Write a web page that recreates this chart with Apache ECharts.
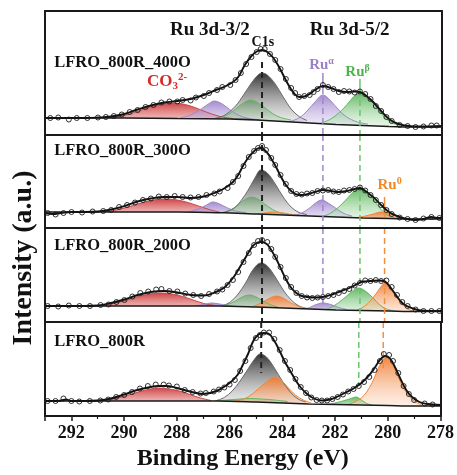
<!DOCTYPE html>
<html><head><meta charset="utf-8">
<script src="https://cdn.jsdelivr.net/npm/echarts@6/dist/echarts.min.js"></script>
<style>html,body{margin:0;padding:0;background:#fff}#c{width:457px;height:475px}</style>
</head><body><div id="c"></div><script>
const SERIF = '"Liberation Serif","Times New Roman",serif';
const xMin = 278, xMax = 293, xStep = 2;
const xAxisName = 'Binding Energy (eV)';
const yAxisName = 'Intensity (a.u.)';
const panelNames = ['LFRO_800R_400O', 'LFRO_800R_300O', 'LFRO_800R_200O', 'LFRO_800R'];

const p1Fit = [[293,17],[292.5,17],[292,17],[291.5,17],[291,17.5],[290.5,18.5],[290,21],[289.5,25.5],[289,29.5],[288.5,32.5],[288,34],[287.5,36],[287,40],[286.5,45.5],[286.2,48.5],[285.9,53],[285.7,58],[285.45,70],[285.2,79],[285,83.5],[284.8,85],[284.6,83],[284.4,78],[284.2,70],[284,60],[283.8,50],[283.6,42],[283.4,38],[283.2,38.5],[283,41],[282.8,45],[282.5,49],[282.2,47],[281.9,44],[281.6,43],[281.3,43.5],[281.1,43],[280.9,40],[280.6,33],[280.3,24],[280,16],[279.7,11.5],[279.4,9.5],[279,8.5],[278.5,8.5],[278,9]];
const p1Data = [[292.8,17],[292.5,17.5],[292.1,15.5],[291.8,17],[291.4,17],[291,17.5],[290.7,18],[290.4,19],[290.1,20.5],[289.8,23],[289.5,25],[289.2,28],[288.9,30],[288.6,32.5],[288.3,33.5],[288,33.5],[287.8,35],[287.5,34.5],[287.3,37.5],[287,39],[286.8,42],[286.5,45],[286.3,48],[286,50],[285.8,55],[285.6,62],[285.4,71],[285.2,78],[285,83],[284.85,86],[284.7,86],[284.5,81],[284.3,75],[284.1,66],[283.9,56],[283.7,47],[283.55,42],[283.4,38],[283.2,39],[283,40],[282.85,43],[282.7,46],[282.5,50],[282.3,48],[282.1,46],[281.9,43],[281.7,44],[281.5,43.5],[281.3,42.5],[281.1,43.5],[280.9,41],[280.7,36],[280.5,29],[280.3,24],[280.1,18],[279.9,14],[279.6,10],[279.3,9],[279,8],[278.7,8.5],[278.4,9.5],[278.2,9.5]];
const p1Bg = [[293,17],[290,17],[288,16.5],[286,16],[285,15],[284,13.5],[283,12],[282,10.5],[281,9.5],[280,8.5],[279,8],[278,8]];
const p1Red = [[290.8,17],[290.3,18],[289.8,21],[289.3,25.5],[288.8,29.5],[288.3,32],[287.9,31.5],[287.5,29],[287.1,25],[286.7,21],[286.3,18],[285.9,16.5]];
const p1PurpleA = [[287.9,17],[287.5,20],[287.1,26],[286.8,31.5],[286.6,34],[286.3,31],[286,25],[285.7,20],[285.3,16.5],[284.9,15.5]];
const p1GreenA = [[286.5,16.5],[286.1,20],[285.8,26],[285.5,32],[285.25,35],[285,33],[284.7,27.5],[284.4,21.5],[284.1,17.5],[283.7,15]];
const p1Gray = [[286.6,16.5],[286.2,20],[285.8,29],[285.5,40],[285.2,52],[284.95,60],[284.8,62],[284.6,60],[284.3,51],[284,38],[283.7,26],[283.4,18.5],[283.1,14.5]];
const p1PurpleB = [[283.8,13],[283.4,17],[283.1,24],[282.8,33],[282.5,40],[282.2,34],[281.9,25],[281.6,18],[281.2,13],[280.8,11]];
const p1GreenB = [[282.6,11.5],[282.2,16],[281.9,22],[281.6,30],[281.35,38],[281.1,42],[280.85,39],[280.6,32],[280.3,22],[280,14],[279.6,9.5]];

const p2Fit = [[293,15],[292.7,14],[292.4,15],[292,16],[291.5,16],[291,16.5],[290.5,18.5],[290,22],[289.5,26.5],[289,29.5],[288.5,31],[288,31],[287.5,30],[287,31.5],[286.5,36],[286.2,40],[285.9,46],[285.7,53],[285.5,63],[285.3,71],[285.15,75.5],[285,79],[284.85,80],[284.6,75],[284.4,67],[284.25,60],[284.1,52],[283.9,43],[283.7,37],[283.5,33.5],[283.3,33],[283,34.5],[282.8,36],[282.5,38],[282.2,37],[281.9,36],[281.6,37],[281.3,39],[281.1,40],[280.9,37],[280.6,31],[280.3,23],[280,16],[279.7,12],[279.4,9.5],[279,8],[278.7,9],[278.4,11],[278.2,10],[278,10]];
const p2Data = [[292.9,15],[292.6,13.5],[292.3,15],[292,16],[291.6,15.5],[291.2,16.5],[290.8,17],[290.5,18],[290.2,21],[289.9,23],[289.6,25.5],[289.3,28],[289,29.5],[288.7,31.5],[288.4,31],[288.1,32],[287.8,31],[287.5,30.5],[287.2,31],[286.9,33],[286.6,34.5],[286.4,36.5],[286.1,40],[285.9,46],[285.7,52],[285.5,62],[285.3,71],[285.1,77],[284.95,80],[284.8,82],[284.65,78],[284.45,70],[284.3,63],[284.1,53],[283.9,44],[283.7,37],[283.5,34],[283.3,33.5],[283.1,34.5],[282.9,35],[282.7,37],[282.5,37.5],[282.3,38],[282.1,36.5],[281.9,36],[281.7,37.5],[281.5,38],[281.3,39],[281.1,40.5],[280.9,37.5],[280.7,33],[280.5,28],[280.3,23],[280.1,18],[279.9,14],[279.6,10.5],[279.3,9],[279,8],[278.7,9.5],[278.4,11],[278.1,10]];
const p2Bg = [[293,16],[290,16],[288,16],[286,15],[285,14],[284,13],[283,12],[282,11],[281,10],[280,9.5],[279,9],[278,9]];
const p2Red = [[290.8,16],[290.3,18],[289.8,21.5],[289.3,25.5],[288.8,28.5],[288.4,29],[288,28],[287.6,25.5],[287.2,22],[286.8,18.5],[286.4,16]];
const p2PurpleA = [[287.6,16],[287.2,19],[286.9,23],[286.65,26],[286.4,24],[286.1,20],[285.8,17],[285.4,15.5]];
const p2GreenA = [[286.3,15.5],[286,18],[285.7,23],[285.45,28.5],[285.2,31],[284.95,29],[284.7,24],[284.4,18.5],[284.1,15],[283.8,14]];
const p2Gray = [[286.2,16],[285.9,19],[285.6,27],[285.3,39],[285.05,51],[284.85,58],[284.6,55],[284.3,44],[284,31],[283.7,21],[283.4,15.5],[283.1,13.5]];
const p2OrangeA = [[285,14],[284.7,15],[284.4,16],[284.1,15.5],[283.8,14],[283.5,13]];
const p2PurpleB = [[283.6,12.5],[283.3,15],[283,20],[282.8,24.5],[282.55,28],[282.3,25],[282,19.5],[281.7,14.5],[281.4,12]];
const p2GreenB = [[282.5,11.5],[282.2,15],[281.9,21],[281.6,29],[281.35,36],[281.1,40],[280.85,37],[280.6,29],[280.35,20],[280.1,13.5],[279.8,10.5]];
const p2OrangeB = [[281.2,10.5],[280.9,12],[280.6,14],[280.3,16],[280.05,15],[279.8,12.5],[279.5,10]];

const p3Fit = [[293,16],[292.5,16],[292,16],[291.5,16],[291,16.5],[290.5,19],[290,22.5],[289.5,27],[289,30],[288.5,31],[288,29.5],[287.5,27],[287,26.5],[286.5,30.5],[286.2,35],[285.9,44],[285.7,52],[285.5,61],[285.3,70],[285.15,76],[285,79],[284.85,80],[284.65,78.5],[284.5,74],[284.3,65],[284.1,54],[283.9,43],[283.75,36],[283.55,30],[283.35,26.5],[283.1,25],[282.8,24.5],[282.5,25],[282.1,28],[281.8,31],[281.5,34],[281.2,38],[281,40.5],[280.7,41],[280.4,41.5],[280.2,41],[280.05,38],[279.85,31],[279.6,22],[279.4,17],[279.1,13.5],[278.8,11.5],[278.5,11],[278,11]];
const p3Data = [[292.9,16],[292.5,15.5],[292.1,16.5],[291.7,16],[291.3,16],[290.9,17],[290.6,17.5],[290.3,20],[290,22],[289.7,25.5],[289.4,29],[289.1,30.5],[288.8,32.5],[288.6,33],[288.3,31],[288,30.5],[287.7,28.5],[287.4,27],[287.1,26],[286.8,28],[286.5,30.5],[286.3,32.5],[286.1,37],[285.9,42],[285.7,50],[285.5,60],[285.3,69],[285.1,77],[284.95,81],[284.8,82],[284.6,80],[284.45,73],[284.3,65],[284.1,55],[283.9,44],[283.7,35],[283.5,29],[283.3,26],[283.1,24.5],[282.9,24],[282.7,24.5],[282.5,25],[282.3,26],[282.1,27],[281.9,29],[281.7,31],[281.5,33],[281.3,36.5],[281.1,39],[280.9,41.5],[280.7,41],[280.5,42],[280.3,41],[280.1,41.5],[279.9,35],[279.7,27],[279.5,20],[279.3,16],[279,12.5],[278.7,11],[278.4,11],[278.1,11]];
const p3Bg = [[293,16],[290,16],[288,16],[286.5,16],[285,15],[284,14],[283,13],[282,12],[281,11.5],[280,11],[279,10.5],[278,10.5]];
const p3Red = [[290.9,16],[290.4,18.5],[289.9,22],[289.4,26],[288.9,28.5],[288.6,29],[288.2,28],[287.8,25.5],[287.4,22],[287,18.5],[286.6,16.5]];
const p3PurpleA = [[287.4,16],[287,17.5],[286.7,19],[286.4,18],[286.1,16.5],[285.8,15.5]];
const p3GreenA = [[286.4,15.5],[286.1,17.5],[285.8,21],[285.55,25],[285.3,27],[285.05,25.5],[284.8,21.5],[284.5,17.5],[284.2,15]];
const p3Gray = [[286.3,16],[286,20],[285.7,28],[285.4,40],[285.15,52],[284.85,59],[284.6,56],[284.3,45],[284,32],[283.7,22],[283.4,16],[283.1,13.5]];
const p3OrangeA = [[285.4,14.5],[285.1,16],[284.8,19.5],[284.5,24],[284.25,26],[284,24],[283.7,19],[283.4,15.5],[283.1,13.5]];
const p3PurpleB = [[283.3,12.5],[283,14.5],[282.8,17],[282.5,19],[282.2,17.5],[281.9,14.5],[281.6,12.5]];
const p3GreenB = [[282.5,11.5],[282.2,14.5],[281.9,19.5],[281.6,26],[281.35,31.5],[281.15,34],[280.9,31],[280.6,24],[280.35,17],[280.1,13],[279.8,11]];
const p3OrangeB = [[281.4,10.5],[281.1,13],[280.8,18.5],[280.5,28],[280.3,35.5],[280.15,39],[279.95,35],[279.75,27],[279.55,19],[279.3,13],[279,10.5]];

const p4Fit = [[293,15],[292.5,15],[292.2,16.5],[292,15],[291.5,15],[291,15.5],[290.5,17.5],[290,21.5],[289.5,26],[289,29],[288.7,30],[288.4,30],[288,28],[287.5,24.5],[287,22],[286.5,25],[286,33],[285.7,41],[285.5,51],[285.3,62],[285.1,75],[284.9,81.5],[284.7,83],[284.5,82],[284.3,75],[284.1,65],[283.9,54],[283.7,45],[283.5,36],[283.3,28.5],[283.1,23],[282.8,17.5],[282.5,15.5],[282.2,16.5],[281.9,19.5],[281.6,23.5],[281.3,27.5],[281,33],[280.7,41],[280.5,48],[280.3,56],[280.1,60],[279.9,57],[279.7,47.5],[279.5,36],[279.3,26],[279.1,19.5],[278.8,14],[278.5,12],[278,11]];
const p4Data = [[292.9,15],[292.6,15],[292.3,17.5],[292,15],[291.7,14.5],[291.3,15],[290.9,15.5],[290.6,16.5],[290.3,19],[290,21],[289.7,24],[289.4,27.5],[289.1,30],[288.8,31.5],[288.5,31.5],[288.3,30.5],[288,29.5],[287.7,26],[287.4,24],[287.1,22.5],[286.9,23],[286.6,24.5],[286.4,26.5],[286.2,28.5],[286,31.5],[285.8,36],[285.6,45],[285.4,55],[285.2,68],[285,78],[284.85,81],[284.7,83.5],[284.5,83.5],[284.3,77],[284.1,66],[283.9,55],[283.7,46],[283.5,37],[283.3,29],[283.1,23],[282.9,18.5],[282.7,16],[282.5,15.5],[282.3,15.5],[282.1,17],[281.9,19],[281.7,21.5],[281.5,24.5],[281.3,27],[281.1,30],[280.9,34],[280.7,39],[280.5,46],[280.3,55],[280.15,62],[279.95,61],[279.8,55],[279.6,43],[279.4,30],[279.2,22],[279,16],[278.6,12.5],[278.3,11.5]];
const p4Bg = [[293,15],[290,15],[288,15],[286.5,15],[285,14],[284,13],[283,12],[282,11.5],[281,11],[280,10.5],[279,10],[278,10]];
const p4Red = [[290.9,15],[290.4,17],[289.9,20.5],[289.4,24.5],[289,27],[288.7,28],[288.3,27],[287.9,25],[287.5,21.5],[287.1,18],[286.7,15.5]];
const p4GreenA = [[286.6,15],[286.1,16],[285.6,17],[285.2,17.5],[284.8,17],[284.3,16],[283.8,14.5]];
const p4Gray = [[286.5,15.5],[286.2,18.5],[285.9,25],[285.6,35],[285.3,47],[285.05,57],[284.85,62],[284.6,59],[284.3,48],[284,35],[283.7,24],[283.4,17],[283.1,14]];
const p4OrangeA = [[285.9,14.5],[285.6,16],[285.3,19],[285,25],[284.7,32],[284.45,37],[284.3,39],[284.05,36],[283.8,29],[283.5,21],[283.2,16],[282.9,13]];
const p4GreenB = [[282.3,11.5],[282,13],[281.7,15],[281.4,17.5],[281.2,19],[281,16],[280.8,12.5],[280.6,11]];
const p4OrangeB = [[281.6,11],[281.3,13.5],[281,18],[280.8,24],[280.6,33],[280.4,45],[280.2,56],[280.05,59],[279.85,53],[279.65,42],[279.45,30],[279.2,20],[278.95,14],[278.7,11]];

const eC1s = 284.8, eRuA = 282.5, eRuB = 281.1, eRu0 = 280.17;

const tops = [11, 135, 228, 322], heights = [124, 93, 94, 94];
const FRAME = '#1a1a1a';
const COL = {
  red:    {line:'#c74848', top:'rgba(200,45,45,0.88)',  bot:'rgba(255,225,225,0.3)', text:'#d42a2a'},
  purple: {line:'#9d88c8', top:'rgba(150,120,200,0.85)', bot:'rgba(240,235,250,0.3)', text:'#9a7fcb'},
  green:  {line:'#5fb85f', top:'rgba(75,172,75,0.85)',   bot:'rgba(230,250,230,0.3)', text:'#4db34d'},
  gray:   {line:'#6a6a6a', top:'rgba(40,40,40,0.95)',   bot:'rgba(255,255,255,0.3)', text:'#222'},
  orange: {line:'#f0883a', top:'rgba(240,120,45,0.9)', bot:'rgba(255,235,220,0.3)', text:'#f08a28'}
};
function grad(c){ return {type:'linear',x:0,y:0,x2:0,y2:1,colorStops:[{offset:0,color:c.top},{offset:1,color:c.bot}]}; }
function lineS(g, data, o){ return Object.assign({type:'line',xAxisIndex:g,yAxisIndex:g,data:data,symbol:'none',smooth:0.35,silent:true,animation:false}, o); }
function comp(g, data, c){ return lineS(g, data, {z:2, lineStyle:{color:c.line,width:1}, areaStyle:{color:grad(c),opacity:1}}); }
function vline(g, e, a, b, color, w, dashed){ return lineS(g, [[e,a],[e,b]], {smooth:false, z:4, lineStyle:{color:color,width:w,type:dashed?[6,4]:'solid'}}); }

const panels = [
  {fit:p1Fit, data:p1Data, bg:p1Bg, comps:[[p1Red,'red'],[p1PurpleA,'purple'],[p1GreenA,'green'],[p1Gray,'gray'],[p1PurpleB,'purple'],[p1GreenB,'green']]},
  {fit:p2Fit, data:p2Data, bg:p2Bg, comps:[[p2Red,'red'],[p2PurpleA,'purple'],[p2GreenA,'green'],[p2OrangeA,'orange'],[p2Gray,'gray'],[p2PurpleB,'purple'],[p2GreenB,'green'],[p2OrangeB,'orange']]},
  {fit:p3Fit, data:p3Data, bg:p3Bg, comps:[[p3Red,'red'],[p3PurpleA,'purple'],[p3GreenA,'green'],[p3Gray,'gray'],[p3OrangeA,'orange'],[p3PurpleB,'purple'],[p3GreenB,'green'],[p3OrangeB,'orange']]},
  {fit:p4Fit, data:p4Data, bg:p4Bg, comps:[[p4Red,'red'],[p4GreenA,'green'],[p4Gray,'gray'],[p4OrangeA,'orange'],[p4GreenB,'green'],[p4OrangeB,'orange']]}
];

const series = [];
panels.forEach((p, g) => {
  p.comps.forEach(([d, c]) => series.push(comp(g, d, COL[c])));
  series.push(lineS(g, p.bg, {z:3, smooth:0.3, lineStyle:{color:'#1a1a1a',width:1.5}, areaStyle:{color:'#fff',opacity:1}}));
  series.push(lineS(g, p.fit, {z:5, smooth:0.4, lineStyle:{color:'#111',width:1.9}}));
  series.push({type:'scatter', xAxisIndex:g, yAxisIndex:g, data:p.data, symbol:'circle', symbolSize:5, silent:true, animation:false, z:6,
    itemStyle:{color:'rgba(255,255,255,0)', borderColor:'#1a1a1a', borderWidth:0.9, opacity:1}});
});
series.push(vline(0, eC1s, 73, 0, '#222', 2, true));
series.push(vline(1, eC1s, 93, 0, '#222', 2, true));
series.push(vline(2, eC1s, 94, 0, '#222', 2, true));
series.push(vline(3, eC1s, 94, 43, '#222', 2, true));
series.push(vline(0, eRuA, 62, 47, '#9d88c8', 1.5, false));
series.push(vline(0, eRuA, 47, 0, '#9d88c8', 1.5, true));
series.push(vline(1, eRuA, 93, 0, '#9d88c8', 1.5, true));
series.push(vline(2, eRuA, 94, 16, '#9d88c8', 1.5, true));
series.push(vline(0, eRuB, 56, 45, '#6cc46c', 1.5, false));
series.push(vline(0, eRuB, 45, 0, '#6cc46c', 1.5, true));
series.push(vline(1, eRuB, 93, 0, '#6cc46c', 1.5, true));
series.push(vline(2, eRuB, 94, 0, '#6cc46c', 1.5, true));
series.push(vline(3, eRuB, 94, 30, '#6cc46c', 1.5, true));
series.push(vline(1, eRu0, 31, 11, '#f0903c', 1.5, false));
series.push(vline(2, eRu0, 94, 0, '#f0903c', 1.5, true));
series.push(vline(3, eRu0, 94, 46, '#f0903c', 1.5, true));

function tok(color, size, va){
  return {fontFamily:SERIF, fontWeight:'bold', fontSize:size, color:color, verticalAlign:va, lineHeight:va==='middle'?size+3:Math.round(size),
    textBorderWidth:0, textBorderColor:'transparent', textShadowBlur:0, opacity:1};
}
function richFor(color, size, small){
  return {m:tok(color,size,'middle'), sup:tok(color,small,'top'), sub:tok(color,small,'bottom')};
}
function lab(e, i, text, color, size, small, align){
  return {value:[e,i], itemStyle:{opacity:1}, label:{show:true, position: align==='left'?'right':'inside', distance:0,
    color:color, opacity:1, textBorderWidth:0, textBorderColor:'transparent', textShadowBlur:0,
    fontFamily:SERIF, fontWeight:'bold', fontSize:size,
    formatter:()=>text, rich:richFor(color,size,small)}};
}
const TXT = '#111';
const labelSets = [
  [lab(292.65,72,'{m|'+panelNames[0]+'}',TXT,16.5,10,'left'),
   lab(286.77,105,'{m|Ru 3d-3/2}',TXT,19,10,'center'),
   lab(281.49,105,'{m|Ru 3d-5/2}',TXT,19,10,'center'),
   lab(284.77,93,'{m|C1s}',TXT,14,10,'center'),
   lab(289.15,53,'{m|CO}{sub|3}{sup|2-}',COL.red.text,17,11,'left'),
   lab(282.55,70,'{m|Ru}{sup|α}',COL.purple.text,15,10,'center'),
   lab(281.19,63,'{m|Ru}{sup|β}',COL.green.text,15,10,'center')],
  [lab(292.65,77,'{m|'+panelNames[1]+'}',TXT,16.5,10,'left'),
   lab(279.98,43,'{m|Ru}{sup|0}',COL.orange.text,15,10,'center')],
  [lab(292.65,76,'{m|'+panelNames[2]+'}',TXT,16.5,10,'left')],
  [lab(292.65,74,'{m|'+panelNames[3]+'}',TXT,16.5,10,'left')]
];
labelSets.forEach((d,g)=>series.push({type:'scatter',xAxisIndex:g,yAxisIndex:g,data:d,symbolSize:0,silent:true,animation:false,z:8,itemStyle:{opacity:1}}));

// frame: each panel boxed by its own axis lines (bottom/top x, left/right y)
const frameLine = {show:true, onZero:false, lineStyle:{color:FRAME, width:2}};
const grids = tops.map((t,g)=>({left:45, width:397, top:t, height:heights[g], show:false}));
const xAxes = [];
tops.forEach((t,g)=>{
  if (g < 3) xAxes.push({gridIndex:g,type:'value',min:xMin,max:xMax,inverse:true,position:'bottom',z:10,
    axisLine:frameLine, axisTick:{show:false}, axisLabel:{show:false}, splitLine:{show:false}});
  else xAxes.push({gridIndex:g, type:'value', min:xMin, max:xMax, interval:xStep, inverse:true, position:'bottom', z:10,
    name:xAxisName, nameLocation:'middle', nameGap:31,
    nameTextStyle:{fontFamily:SERIF, fontWeight:'bold', fontSize:24, color:'#111'},
    axisLine:frameLine,
    axisTick:{show:true, inside:false, length:5, lineStyle:{color:FRAME, width:1.5}},
    minorTick:{show:true, splitNumber:2, length:3, lineStyle:{color:FRAME, width:1.2}},
    axisLabel:{show:true, margin:8, showMaxLabel:false, fontFamily:SERIF, fontWeight:'bold', fontSize:18, color:'#111'},
    splitLine:{show:false}});
});
tops.forEach((t,g)=>xAxes.push({gridIndex:g,type:'value',min:xMin,max:xMax,inverse:true,position:'top',z:10,
  axisLine:frameLine, axisTick:{show:false}, axisLabel:{show:false}, splitLine:{show:false}}));
const yAxes = [];
heights.forEach((h,g)=>yAxes.push({gridIndex:g,type:'value',min:0,max:h,position:'left',z:10,
  axisLine:frameLine, axisTick:{show:false}, axisLabel:{show:false}, splitLine:{show:false}}));
heights.forEach((h,g)=>yAxes.push({gridIndex:g,type:'value',min:0,max:h,position:'right',z:10,
  axisLine:frameLine, axisTick:{show:false}, axisLabel:{show:false}, splitLine:{show:false}}));

const chart = echarts.init(document.getElementById('c'), null, {renderer:'canvas'});
chart.setOption({
  animation:false,
  backgroundColor:'#fff',
  grid:grids, xAxis:xAxes, yAxis:yAxes, series:series,
  graphic:[{type:'text', x:24, y:258, rotation:Math.PI/2, silent:true,
    style:{text:yAxisName, fontFamily:SERIF, fontWeight:'bold', fontSize:28, fill:'#111', align:'center', verticalAlign:'middle'}}]
});
</script></body></html>
